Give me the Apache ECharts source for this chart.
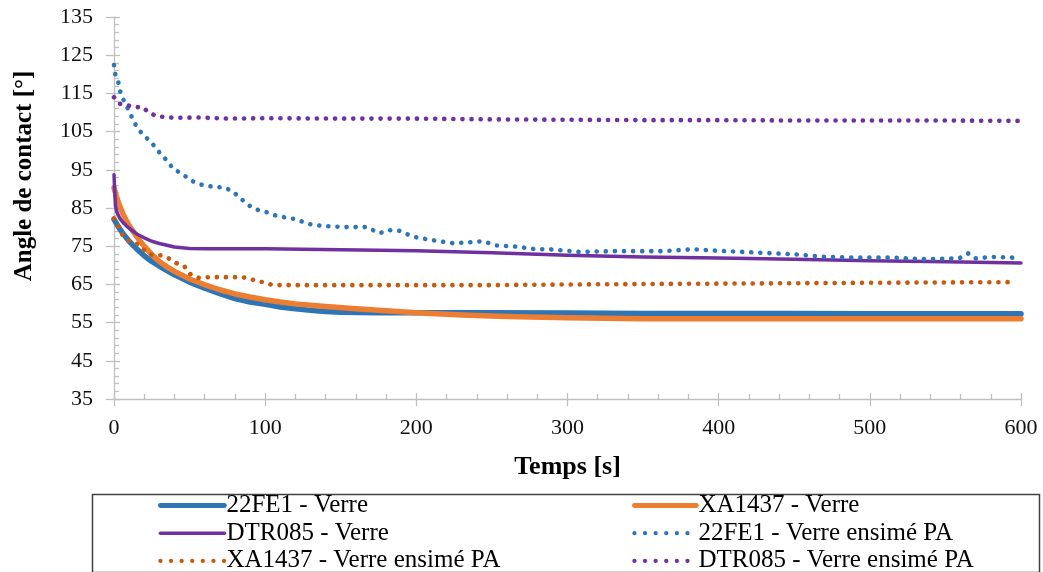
<!DOCTYPE html>
<html>
<head>
<meta charset="utf-8">
<script src="https://cdn.jsdelivr.net/npm/echarts@6/dist/echarts.min.js"></script>
<style>
html,body{margin:0;padding:0;background:#fff;}
#chart{width:1043px;height:572px;}
</style>
</head>
<body>
<div id="chart"></div>
<script>
// ---- Data ----
const seriesNames = [
  '22FE1 - Verre', 'XA1437 - Verre', 'DTR085 - Verre',
  '22FE1 - Verre ensimé PA', 'XA1437 - Verre ensimé PA', 'DTR085 - Verre ensimé PA'
];

const t22Verre = [0, 3, 6, 10, 15, 20, 25, 30, 35, 40, 50, 60, 70, 80, 90, 100, 110, 120, 130, 140, 150, 175, 200, 250, 300, 350, 400, 450, 500, 550, 600];
const v22Verre = [82.0, 80.0, 78.3, 76.3, 74.3, 72.5, 71.0, 69.8, 68.6, 67.5, 65.6, 64.0, 62.6, 61.3, 60.4, 59.8, 59.1, 58.6, 58.2, 57.9, 57.7, 57.6, 57.6, 57.6, 57.5, 57.4, 57.4, 57.4, 57.3, 57.3, 57.3];

const tXAVerre = [0, 2, 4, 6, 8, 10, 15, 20, 25, 30, 35, 40, 50, 60, 70, 80, 90, 100, 110, 120, 140, 160, 180, 200, 230, 260, 300, 350, 400, 450, 500, 550, 600];
const vXAVerre = [90.3, 87.5, 85.3, 83.4, 81.8, 80.4, 77.5, 75.0, 72.8, 71.0, 69.6, 68.4, 66.4, 64.9, 63.6, 62.5, 61.7, 61.0, 60.4, 59.9, 59.2, 58.6, 58.1, 57.6, 57.0, 56.6, 56.3, 56.0, 56.0, 56.0, 56.0, 56.0, 56.0];

const tDTRVerre = [0, 0.5, 1, 2, 4, 6, 8, 10, 15, 20, 25, 30, 40, 50, 60, 80, 100, 150, 200, 250, 300, 350, 400, 450, 500, 550, 600];
const vDTRVerre = [93.7, 89.0, 85.5, 83.8, 82.2, 81.2, 80.4, 79.7, 78.2, 77.2, 76.3, 75.7, 74.8, 74.4, 74.3, 74.3, 74.3, 74.1, 73.8, 73.3, 72.6, 72.2, 71.9, 71.6, 71.2, 70.9, 70.6];

const t22PA = [0, 1, 3, 4.6, 7.7, 9.9, 12.5, 15.3, 19.5, 23, 27, 30.7, 35.1, 38.9, 42.2, 46.6, 50.4, 54.4, 58.8, 65, 74, 78.5, 82.4, 86.2, 90.6, 95.7, 101, 106.3, 110, 115, 120, 124.6, 129, 137.8, 153, 167, 175.6, 182, 189, 197.6, 208.6, 224, 235, 244, 253, 266, 279, 288, 308, 330, 363, 383, 405, 427, 449, 471, 493, 515, 537, 559, 565, 570, 581, 595];
const v22PA = [122.4, 119.6, 117.7, 114.6, 112.2, 110.4, 108.2, 106.0, 104.1, 102.8, 101.1, 99.2, 97.4, 95.4, 94.6, 93.5, 92.4, 91.5, 91.0, 90.6, 90.3, 89.2, 88.1, 86.6, 85.3, 84.4, 83.9, 83.1, 82.8, 82.4, 82.1, 81.4, 80.8, 80.3, 80.0, 80.0, 78.4, 79.2, 79.0, 77.5, 76.7, 75.8, 76.0, 76.3, 75.2, 74.9, 74.2, 74.2, 73.5, 73.7, 73.7, 74.2, 73.7, 73.3, 72.9, 72.2, 72.0, 72.0, 71.6, 71.8, 73.1, 71.8, 72.2, 72.0];

const tXAPA = [0, 3.4, 6, 10.8, 15, 23, 28, 31, 36.8, 41.6, 46.6, 50.4, 56, 63, 85, 95, 99, 104.5, 110, 150, 200, 250, 275, 350, 400, 490, 595];
const vXAPA = [82.3, 79.9, 77.6, 76.1, 75.7, 72.9, 72.6, 72.6, 71.7, 70.5, 69.7, 67.7, 66.7, 66.9, 66.9, 65.9, 65.5, 64.9, 64.8, 64.8, 64.8, 64.8, 64.9, 65.1, 65.2, 65.4, 65.6];

const tDTRPA = [0, 3.5, 8, 13, 19, 23, 28.4, 40, 56, 75, 100, 150, 200, 250, 300, 350, 400, 450, 500, 550, 598];
const vDTRPA = [114.0, 112.3, 112.0, 111.4, 111.4, 110.0, 109.0, 108.6, 108.7, 108.4, 108.5, 108.4, 108.4, 108.2, 108.1, 108.0, 108.0, 107.9, 107.9, 107.9, 107.8];

const xTicks = { min: 0, max: 600, interval: 100 };
const yTicks = { min: 35, max: 135, interval: 10 };

// ---- Chart ----
const pair = (ts, vs) => ts.map((t, i) => [t, vs[i]]);
const FONT = '"Liberation Serif", "Times New Roman", serif';
const dotted = [0.1, 9];
const colors = ['#2E75B6', '#ED7D31', '#7030A0', '#2E75B6', '#C55A11', '#7030A0'];
const widths = [5.5, 5.5, 3.5, 4.6, 4.6, 4.6];
const legendWidths = [4.8, 4.8, 3.6, 4.2, 4.2, 4.2];

const mk = (i, ts, vs) => ({
  name: seriesNames[i], type: 'line', data: pair(ts, vs), showSymbol: false, symbol: 'none',
  xAxisIndex: 0, yAxisIndex: 0, smooth: false, animation: false,
  lineStyle: { color: colors[i], width: widths[i], type: i >= 3 ? dotted : 'solid', cap: 'round', join: 'round' },
  itemStyle: { color: colors[i] }
});
const legendItem = (i) => ({
  name: seriesNames[i],
  lineStyle: { color: colors[i], width: legendWidths[i], type: i >= 3 ? [0.1, 10.5] : 'solid', cap: 'round' }
});

const axisGray = '#bfbfbf';
const legendBase = {
  orient: 'vertical', top: 493, height: 150, itemGap: 2.7, padding: 0,
  itemHeight: 14,
  itemStyle: { opacity: 0, color: 'rgba(0,0,0,0)', borderWidth: 0 },
  textStyle: { fontFamily: FONT, fontSize: 25, color: '#000', lineHeight: 24, padding: [0, 0, 0, -3] },
  selectedMode: false
};
const chart = echarts.init(document.getElementById('chart'), null, { renderer: 'canvas' });
chart.setOption({
  animation: false,
  backgroundColor: '#ffffff',
  textStyle: { fontFamily: FONT },
  grid: { left: 114, right: 22, top: 17, bottom: 173, containLabel: false, outerBoundsMode: 'none' },
  xAxis: [{
    type: 'value', min: xTicks.min, max: xTicks.max, interval: xTicks.interval,
    position: 'bottom',
    name: 'Temps [s]', nameLocation: 'middle', nameGap: 55,
    nameTextStyle: { fontFamily: FONT, fontSize: 26, fontWeight: 'bold', color: '#000' },
    axisLine: { show: true, lineStyle: { color: axisGray, width: 1.3 } },
    axisTick: { show: true, inside: true, length: 6, lineStyle: { color: axisGray, width: 1.3 } },
    minorTick: { show: true, splitNumber: 5, length: 5, lineStyle: { color: axisGray, width: 1.3 } },
    axisLabel: { fontFamily: FONT, fontSize: 22, color: '#111', margin: 18 },
    splitLine: { show: false }
  }, {
    type: 'value', min: xTicks.min, max: xTicks.max, interval: xTicks.interval,
    position: 'bottom', gridIndex: 0,
    axisLine: { show: false },
    axisTick: { show: true, inside: false, length: 7, lineStyle: { color: axisGray, width: 1.3 } },
    axisLabel: { show: false }, splitLine: { show: false }
  }],
  yAxis: [{
    type: 'value', min: yTicks.min, max: yTicks.max, interval: yTicks.interval,
    position: 'left',
    name: 'Angle de contact [°]', nameLocation: 'middle', nameGap: 77,
    nameTextStyle: { fontFamily: FONT, fontSize: 25, fontWeight: 'bold', color: '#000', padding: [0, 0, 0, 64] },
    axisLine: { show: true, lineStyle: { color: axisGray, width: 1.3 } },
    axisTick: { show: true, inside: true, length: 6, lineStyle: { color: axisGray, width: 1.3 } },
    minorTick: { show: true, splitNumber: 5, length: 5, lineStyle: { color: axisGray, width: 1.3 } },
    axisLabel: { fontFamily: FONT, fontSize: 22, color: '#111', margin: 21 },
    splitLine: { show: false }
  }, {
    type: 'value', min: yTicks.min, max: yTicks.max, interval: yTicks.interval,
    position: 'left', gridIndex: 0,
    axisLine: { show: false },
    axisTick: { show: true, inside: false, length: 8, lineStyle: { color: axisGray, width: 1.3 } },
    axisLabel: { show: false }, splitLine: { show: false }
  }],
  legend: [
    Object.assign({}, legendBase, { data: [legendItem(0), legendItem(2), legendItem(4)], left: 158, width: 400, itemWidth: 64 }),
    Object.assign({}, legendBase, { data: [legendItem(1), legendItem(3), legendItem(5)], left: 632, width: 400, itemWidth: 62 })
  ],
  graphic: [{
    type: 'rect', left: 90, top: 492, silent: true,
    shape: { width: 947, height: 78 },
    style: { fill: 'none', stroke: '#404040', lineWidth: 1.5 }
  }],
  series: [
    mk(0, t22Verre, v22Verre),
    mk(1, tXAVerre, vXAVerre),
    mk(2, tDTRVerre, vDTRVerre),
    mk(3, t22PA, v22PA),
    mk(4, tXAPA, vXAPA),
    mk(5, tDTRPA, vDTRPA)
  ]
});
</script>
</body>
</html>
